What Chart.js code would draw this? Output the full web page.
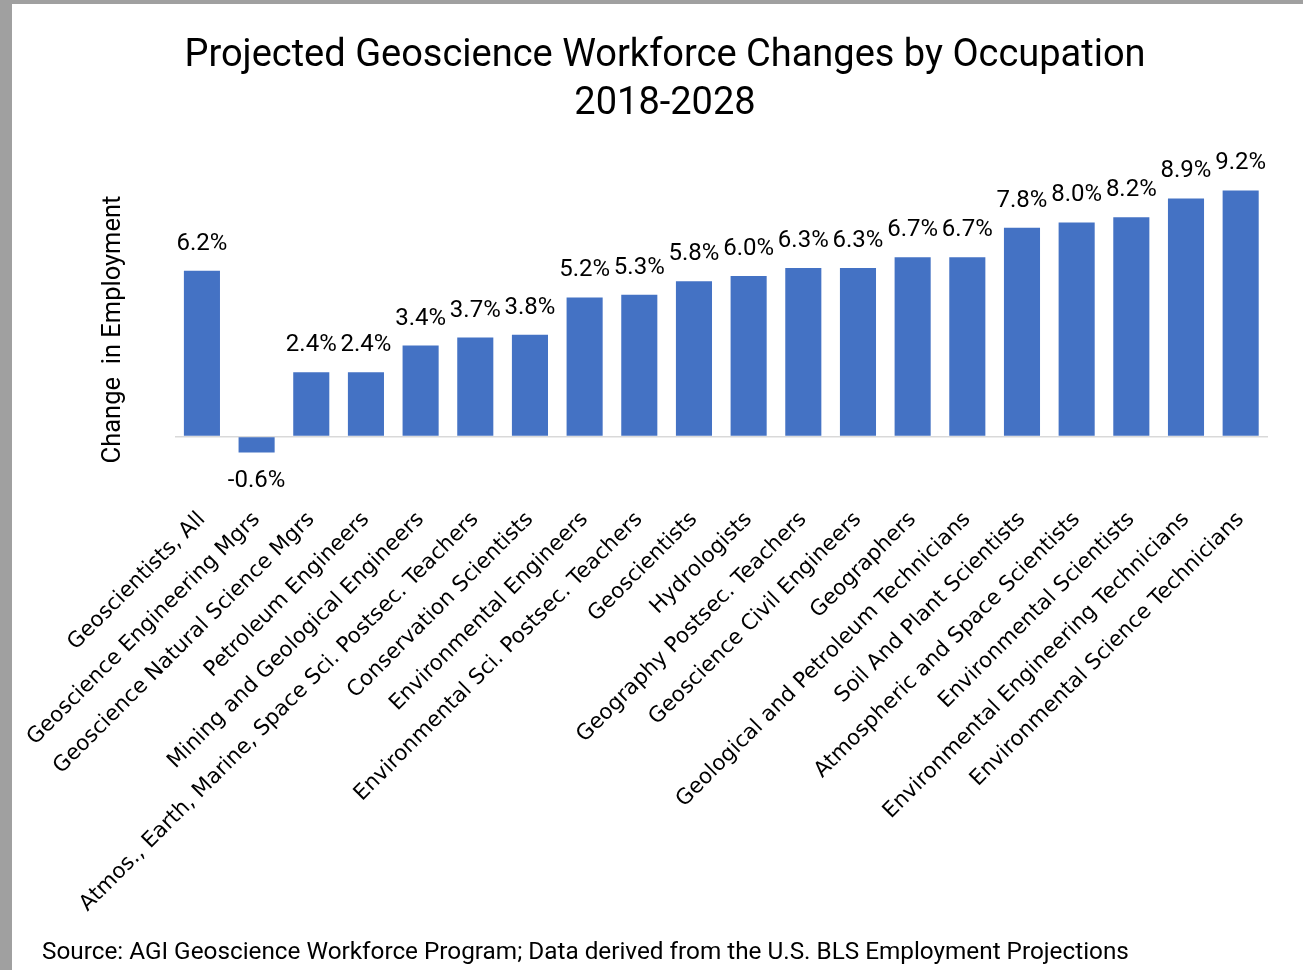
<!DOCTYPE html>
<html>
<head>
<meta charset="utf-8">
<script src="https://cdn.jsdelivr.net/npm/chart.js@4.4.1/dist/chart.umd.min.js"></script>
<style>
  html, body { margin: 0; padding: 0; background: #a0a0a0; }
  #wrap { position: absolute; left: 12px; top: 4px; width: 1291px; height: 966px; background: #fff; }
</style>
</head>
<body>
<div id="wrap"><canvas id="chart" width="1291" height="966"></canvas></div>
<script>
// occupations, in the order shown
const occupations = [
  'Geoscientists, All',
  'Geoscience Engineering Mgrs',
  'Geoscience Natural Science Mgrs',
  'Petroleum Engineers',
  'Mining and Geological Engineers',
  'Atmos., Earth, Marine, Space Sci. Postsec. Teachers',
  'Conservation Scientists',
  'Environmental Engineers',
  'Environmental Sci. Postsec. Teachers',
  'Geoscientists',
  'Hydrologists',
  'Geography Postsec. Teachers',
  'Geoscience Civil Engineers',
  'Geographers',
  'Geological and Petroleum Technicians',
  'Soil And Plant Scientists',
  'Atmospheric and Space Scientists',
  'Environmental Scientists',
  'Environmental Engineering Technicians',
  'Environmental Science Technicians'
];
// % change in employment 2018-2028
const changePct = [6.2, -0.6, 2.4, 2.4, 3.4, 3.7, 3.8, 5.2, 5.3, 5.8, 6.0, 6.3, 6.3, 6.7, 6.7, 7.8, 8.0, 8.2, 8.9, 9.2];

const titleLines = ['Projected Geoscience Workforce Changes by Occupation', '2018-2028'];
const sourceNote = 'Source: AGI Geoscience Workforce Program; Data derived from the U.S. BLS Employment Projections';

// draws the % labels above (or below) each bar
const valueLabels = {
  id: 'valueLabels',
  afterDatasetsDraw(chart) {
    const ctx = chart.ctx;
    const meta = chart.getDatasetMeta(0);
    ctx.save();
    ctx.font = '24px Roboto';
    ctx.fillStyle = '#000';
    ctx.textAlign = 'center';
    ctx.textBaseline = 'middle';
    meta.data.forEach((bar, i) => {
      const v = changePct[i];
      const y = v >= 0 ? bar.y - 27 : bar.y + 28;
      ctx.fillText(v.toFixed(1) + '%', bar.x, y);
    });
    ctx.restore();
  }
};

// source line along the bottom-left edge
const sourceLine = {
  id: 'sourceLine',
  afterDraw(chart) {
    const ctx = chart.ctx;
    ctx.save();
    ctx.font = '24.3px Roboto';
    ctx.fillStyle = '#000';
    ctx.textAlign = 'left';
    ctx.textBaseline = 'middle';
    ctx.fillText(sourceNote, 30, chart.height - 17);
    ctx.restore();
  }
};

const ctx = document.getElementById('chart').getContext('2d');
const chart = new Chart(ctx, {
  type: 'bar',
  data: {
    labels: occupations,
    datasets: [{
      data: changePct,
      backgroundColor: '#4472C4',
      borderWidth: 0,
      barPercentage: 0.66,
      categoryPercentage: 1.0
    }]
  },
  options: {
    responsive: false,
    animation: false,
    layout: { padding: { left: 50, right: 35, top: 0, bottom: 32 } },
    plugins: {
      legend: { display: false },
      tooltip: { enabled: false },
      title: {
        display: true,
        text: titleLines,
        color: '#000',
        font: { family: 'Roboto', size: 38, weight: 'normal', lineHeight: 1.263 },
        padding: { top: 29, bottom: 40 }
      }
    },
    scales: {
      x: {
        grid: { display: false, drawTicks: false },
        border: { display: false },
        ticks: {
          autoSkip: false,
          minRotation: 45,
          maxRotation: 45,
          padding: 17,
          color: '#000',
          font: { family: 'DejaVu Sans', size: 21.5 }
        },
        afterFit(scale) { scale.height = 448; }
      },
      y: {
        min: -2,
        max: 10,
        ticks: { display: false, stepSize: 1 },
        border: { display: false },
        grid: {
          drawTicks: false,
          color: c => c.tick && c.tick.value === 0 ? '#d9d9d9' : 'rgba(0,0,0,0)',
          lineWidth: 1.5
        },
        title: {
          display: true,
          text: 'Change  in Employment',
          color: '#000',
          font: { family: 'Roboto', size: 25.5 },
          padding: { top: 36, bottom: 46 }
        }
      }
    }
  },
  plugins: [valueLabels, sourceLine]
});
</script>
</body>
</html>
